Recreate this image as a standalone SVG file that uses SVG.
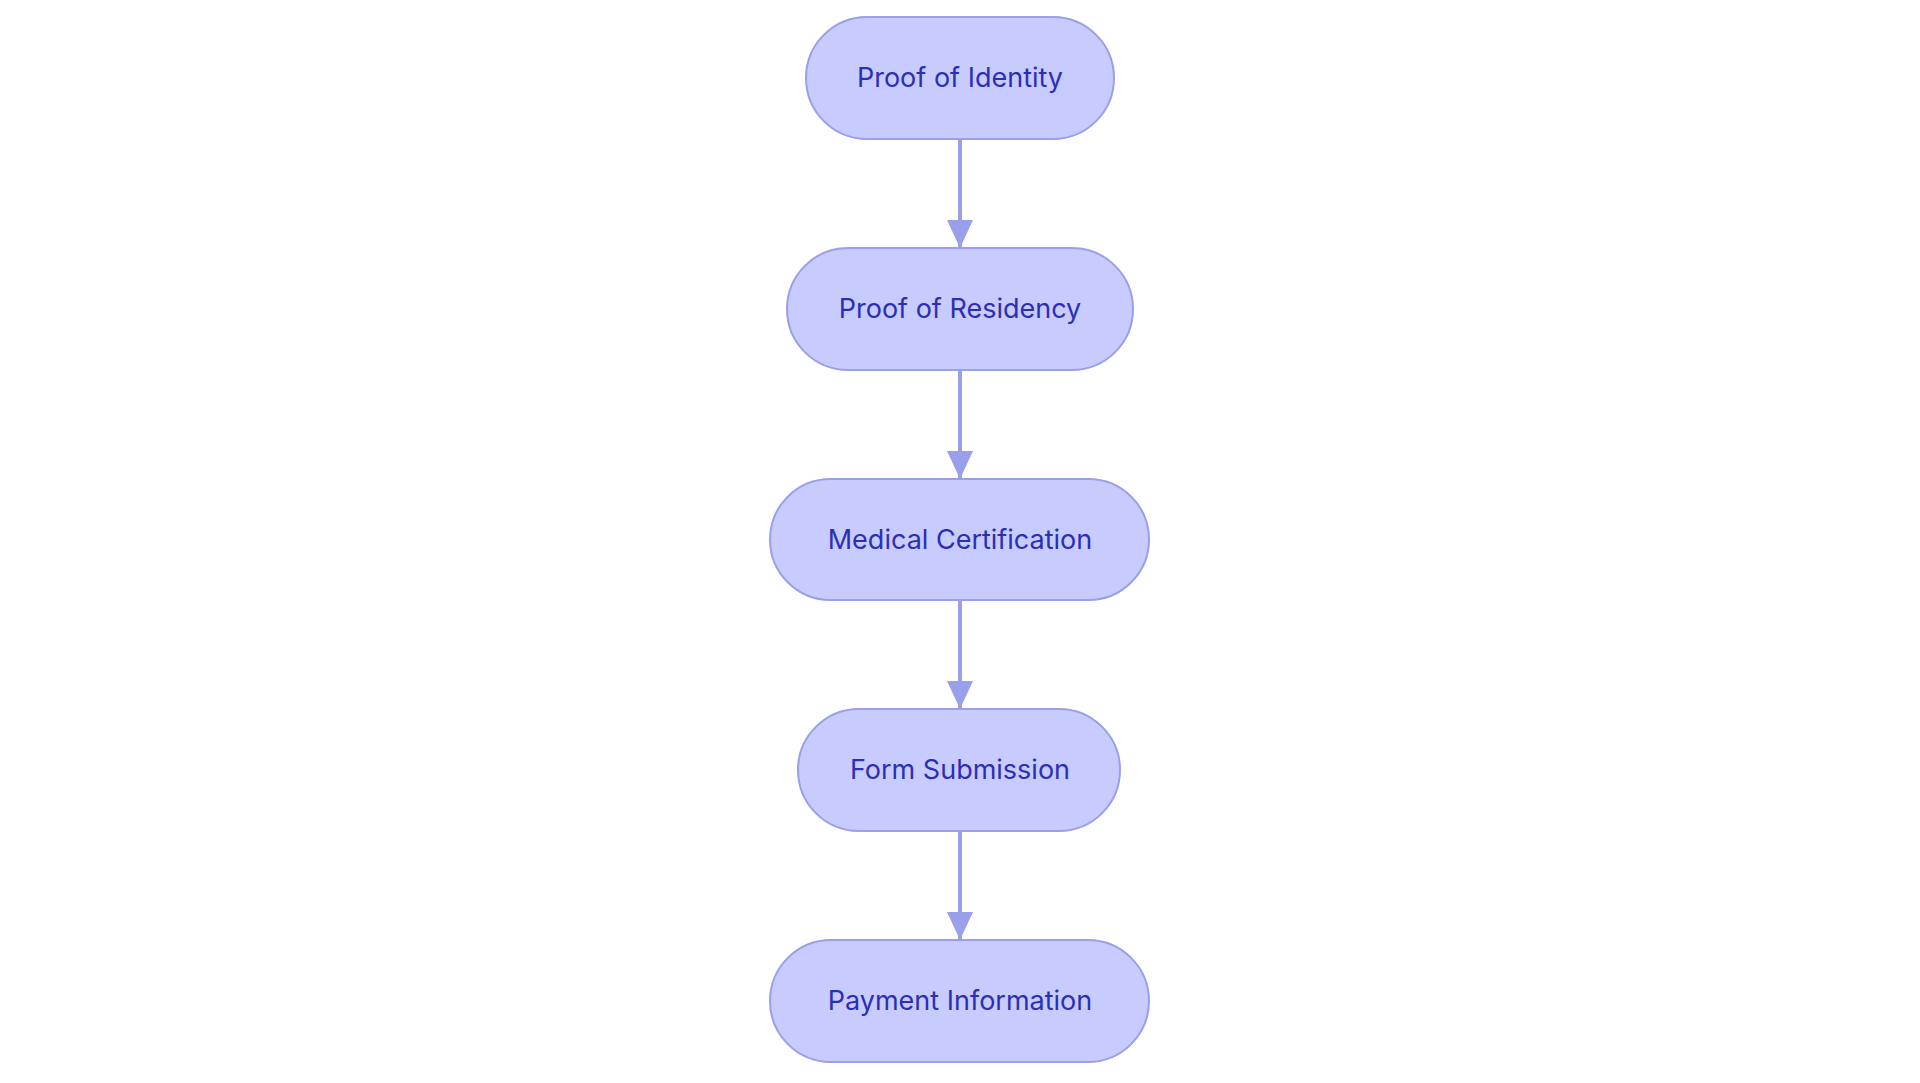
<svg xmlns="http://www.w3.org/2000/svg" width="1920" height="1083" viewBox="0 0 1920 1083">
<style>
.n{fill:#c8cbfe;stroke:#9a9fe9;stroke-width:2}
.t{font-family:Inter,"Noto Sans",sans-serif;font-size:27px;fill:#2b2fb6;text-anchor:middle;dominant-baseline:central}
.e{stroke:#9a9fe9;stroke-width:4;fill:none}
</style>
<defs><marker id="a" markerWidth="10" markerHeight="10" refX="5" refY="9" orient="auto" markerUnits="userSpaceOnUse" viewBox="0 0 10 10"><path d="M0,0L10,0L5,10z" fill="#9a9fe9" transform="scale(1)"/></marker>
<marker id="b" viewBox="0 0 26 28" refX="13" refY="28" markerWidth="26" markerHeight="28" markerUnits="userSpaceOnUse" orient="0"><path d="M0,0L26,0L13,28z" fill="#9a9fe9"/></marker></defs>
<g id="edges">
<line class="e" x1="960" y1="139" x2="960" y2="248" marker-end="url(#b)"/>
<line class="e" x1="960" y1="370" x2="960" y2="479" marker-end="url(#b)"/>
<line class="e" x1="960" y1="600" x2="960" y2="709" marker-end="url(#b)"/>
<line class="e" x1="960" y1="831" x2="960" y2="940" marker-end="url(#b)"/>
</g>
<g id="n1"><rect class="n" x="806" y="17" width="308" height="122" rx="61"/><text class="t" x="960" y="77">Proof of Identity</text></g>
<g id="n2"><rect class="n" x="787" y="248" width="346" height="122" rx="61"/><text class="t" x="960" y="308">Proof of Residency</text></g>
<g id="n3"><rect class="n" x="770" y="479" width="379" height="121" rx="60.5"/><text class="t" x="960" y="539">Medical Certification</text></g>
<g id="n4"><rect class="n" x="798" y="709" width="322" height="122" rx="61"/><text class="t" x="960" y="769">Form Submission</text></g>
<g id="n5"><rect class="n" x="770" y="940" width="379" height="122" rx="61"/><text class="t" x="960" y="1000">Payment Information</text></g>
</svg>
